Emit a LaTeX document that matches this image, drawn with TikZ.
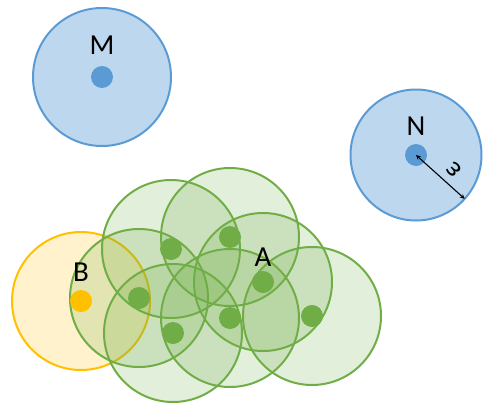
\documentclass[tikz,border=0pt]{standalone}
\usepackage{fontspec}
\setmainfont{Carlito}
\usetikzlibrary{positioning}
\definecolor{bluezone}{HTML}{5B9BD5}
\definecolor{greenzone}{HTML}{70AD47}
\definecolor{yellowzone}{HTML}{FFC000}

\begin{document}
\begin{tikzpicture}[x=1pt, y=-1pt,
  zone/.style={draw, circle, line width=2pt, minimum size=138pt, inner sep=0pt},
  dot/.style={circle, minimum size=22pt, inner sep=0pt},
  lbl/.style={font=\fontsize{29}{29}\selectfont, text=black, inner sep=1pt}]
\useasboundingbox (0,0) rectangle (485,405);

% noise points M and N
\node[zone, draw=bluezone, fill=bluezone, fill opacity=0.4] (CM) at (102,77) {};
\node[zone, draw=bluezone, fill=bluezone, fill opacity=0.4, minimum size=131pt] (CN) at (416,155) {};
%============
% border point B
\node[zone, draw=yellowzone, fill=yellowzone, fill opacity=0.2] (CB) at (81,301) {};
%============
% core points
\node[zone, draw=greenzone, fill=greenzone, fill opacity=0.2] (C1) at (171,249) {};
\node[zone, draw=greenzone, fill=greenzone, fill opacity=0.2] (C2) at (230,237) {};
\node[zone, draw=greenzone, fill=greenzone, fill opacity=0.2] (C3) at (263,282) {};
\node[zone, draw=greenzone, fill=greenzone, fill opacity=0.2] (C4) at (139,298) {};
\node[zone, draw=greenzone, fill=greenzone, fill opacity=0.2] (C5) at (173,333) {};
\node[zone, draw=greenzone, fill=greenzone, fill opacity=0.2] (C6) at (230,318) {};
\node[zone, draw=greenzone, fill=greenzone, fill opacity=0.2] (C7) at (312,316) {};
%============
\node[dot, fill=bluezone] (M) at (CM.center) {};
\node[dot, fill=bluezone] (N) at (CN.center) {};
\node[dot, fill=yellowzone] (B) at (CB.center) {};
\node[dot, fill=greenzone] (D1) at (C1.center) {};
\node[dot, fill=greenzone] (D2) at (C2.center) {};
\node[dot, fill=greenzone] (D3) at (C3.center) {};
\node[dot, fill=greenzone] (D4) at (C4.center) {};
\node[dot, fill=greenzone] (D5) at (C5.center) {};
\node[dot, fill=greenzone] (D6) at (C6.center) {};
\node[dot, fill=greenzone] (D7) at (C7.center) {};
%============
\node[lbl, above=10pt of M] (LM) {M};
\node[lbl, above=7pt of N] (LN) {N};
\node[lbl, above=7pt of B] (LB) {B};
\node[lbl, above=3pt of D3] (LA) {A};

\draw[<->, >=stealth, line width=1.1pt, shorten >=1pt] (N.center) -- node[pos=0.55, xshift=11pt, yshift=10pt, rotate=135, font=\fontsize{28}{28}\selectfont] (eps) {ε} (CN.-42);

\end{tikzpicture}
\end{document}
